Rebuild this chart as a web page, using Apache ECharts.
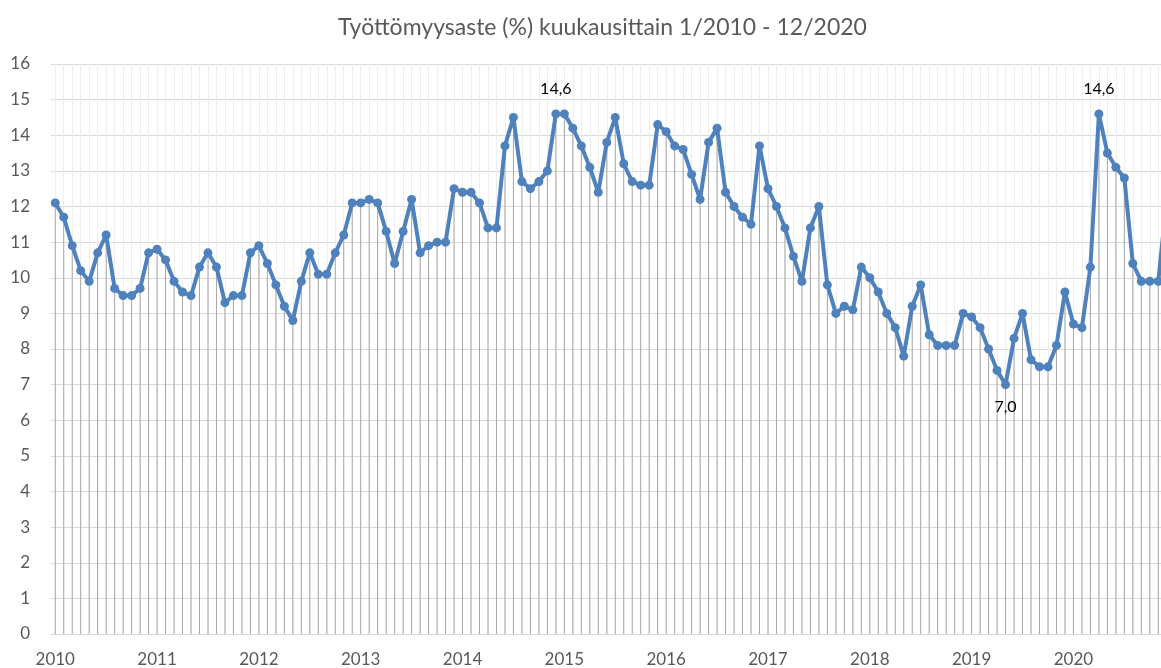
<!DOCTYPE html>
<html>
<head>
<meta charset="utf-8">
<script src="https://cdn.jsdelivr.net/npm/echarts@6/dist/echarts.min.js"></script>
<style>
  html, body { margin: 0; padding: 0; background: #fff; }
  #chart { width: 1161px; height: 668px; }
</style>
</head>
<body>
<div id="chart"></div>
<script>
  // Työttömyysaste kuukausittain, luettu kuvasta
  const years = [2010, 2011, 2012, 2013, 2014, 2015, 2016, 2017, 2018, 2019, 2020]
  const months = [1, 2, 3, 4, 5, 6, 7, 8, 9, 10, 11, 12]
  const rate2010 = [12.1, 11.7, 10.9, 10.2, 9.9, 10.7, 11.2, 9.7, 9.5, 9.5, 9.7, 10.7]
  const rate2011 = [10.8, 10.5, 9.9, 9.6, 9.5, 10.3, 10.7, 10.3, 9.3, 9.5, 9.5, 10.7]
  const rate2012 = [10.9, 10.4, 9.8, 9.2, 8.8, 9.9, 10.7, 10.1, 10.1, 10.7, 11.2, 12.1]
  const rate2013 = [12.1, 12.2, 12.1, 11.3, 10.4, 11.3, 12.2, 10.7, 10.9, 11.0, 11.0, 12.5]
  const rate2014 = [12.4, 12.4, 12.1, 11.4, 11.4, 13.7, 14.5, 12.7, 12.5, 12.7, 13.0, 14.6]
  const rate2015 = [14.6, 14.2, 13.7, 13.1, 12.4, 13.8, 14.5, 13.2, 12.7, 12.6, 12.6, 14.3]
  const rate2016 = [14.1, 13.7, 13.6, 12.9, 12.2, 13.8, 14.2, 12.4, 12.0, 11.7, 11.5, 13.7]
  const rate2017 = [12.5, 12.0, 11.4, 10.6, 9.9, 11.4, 12.0, 9.8, 9.0, 9.2, 9.1, 10.3]
  const rate2018 = [10.0, 9.6, 9.0, 8.6, 7.8, 9.2, 9.8, 8.4, 8.1, 8.1, 8.1, 9.0]
  const rate2019 = [8.9, 8.6, 8.0, 7.4, 7.0, 8.3, 9.0, 7.7, 7.5, 7.5, 8.1, 9.6]
  const rate2020 = [8.7, 8.6, 10.3, 14.6, 13.5, 13.1, 12.8, 10.4, 9.9, 9.9, 9.9, 12.2]
  const yTicks = [0, 16, 1] // min, max, väli
  const labelled = ['12/2014', '5/2019', '4/2020'] // arvot näkyvissä
  const labelBelow = ['5/2019']

  const rates = [].concat(rate2010, rate2011, rate2012, rate2013, rate2014, rate2015,
    rate2016, rate2017, rate2018, rate2019, rate2020)
  const categories = []
  years.forEach(function (y) {
    months.forEach(function (m) { categories.push(m + '/' + y) })
  })

  const fmt = function (v) { return v.toFixed(1).replace('.', ',') }

  const lineData = rates.map(function (v, i) {
    const c = categories[i]
    if (labelled.indexOf(c) < 0) return v
    const below = labelBelow.indexOf(c) >= 0
    return {
      value: v,
      label: {
        show: true,
        position: below ? 'bottom' : 'top',
        distance: below ? 10 : 13,
        formatter: function (p) { return fmt(p.value) },
        color: '#000',
        fontSize: 16,
        fontFamily: 'Lato',
      },
    }
  })

  const chart = echarts.init(document.getElementById('chart'), null, { renderer: 'canvas' })
  chart.setOption({
    animation: false,
    backgroundColor: '#fff',
    title: {
      text: 'Työttömyysaste (%) kuukausittain 1/2010 - 12/2020',
      left: 333,
      top: 11,
      textStyle: { color: '#595959', fontSize: 23, fontWeight: 'normal', fontFamily: 'Lato' },
    },
    grid: { left: 51, top: 64, width: 1120, bottom: 34, containLabel: false, outerBoundsMode: 'none' },
    xAxis: {
      type: 'category',
      data: categories,
      boundaryGap: true,
      axisLine: { lineStyle: { color: '#d9d9d9' } },
      axisTick: { show: false },
      axisLabel: {
        interval: function (i) { return i % 12 === 0 },
        formatter: function (v) { return v.split('/')[1] },
        color: '#595959',
        fontSize: 17,
        fontFamily: 'Lato',
        margin: 17,
        hideOverlap: false,
      },
      splitLine: { show: true, interval: 0, alignWithLabel: true, lineStyle: { color: '#eeeeee', width: 1 } },
    },
    yAxis: {
      type: 'value',
      min: yTicks[0],
      max: yTicks[1],
      interval: yTicks[2],
      axisLine: { show: false },
      axisTick: { show: false },
      axisLabel: { color: '#595959', fontSize: 17, fontFamily: 'Lato', margin: 21 },
      splitLine: { lineStyle: { color: '#d9d9d9', width: 1 } },
    },
    series: [
      {
        // pudotusviivat
        type: 'bar',
        data: rates,
        barWidth: 1,
        itemStyle: { color: '#a6a6a6' },
        silent: true,
        z: 1,
      },
      {
        type: 'line',
        data: lineData,
        symbol: 'circle',
        symbolSize: 9,
        showAllSymbol: true,
        lineStyle: { color: '#4f81bd', width: 4 },
        itemStyle: { color: '#4f81bd' },
        z: 3,
      },
    ],
  })
</script>
</body>
</html>
